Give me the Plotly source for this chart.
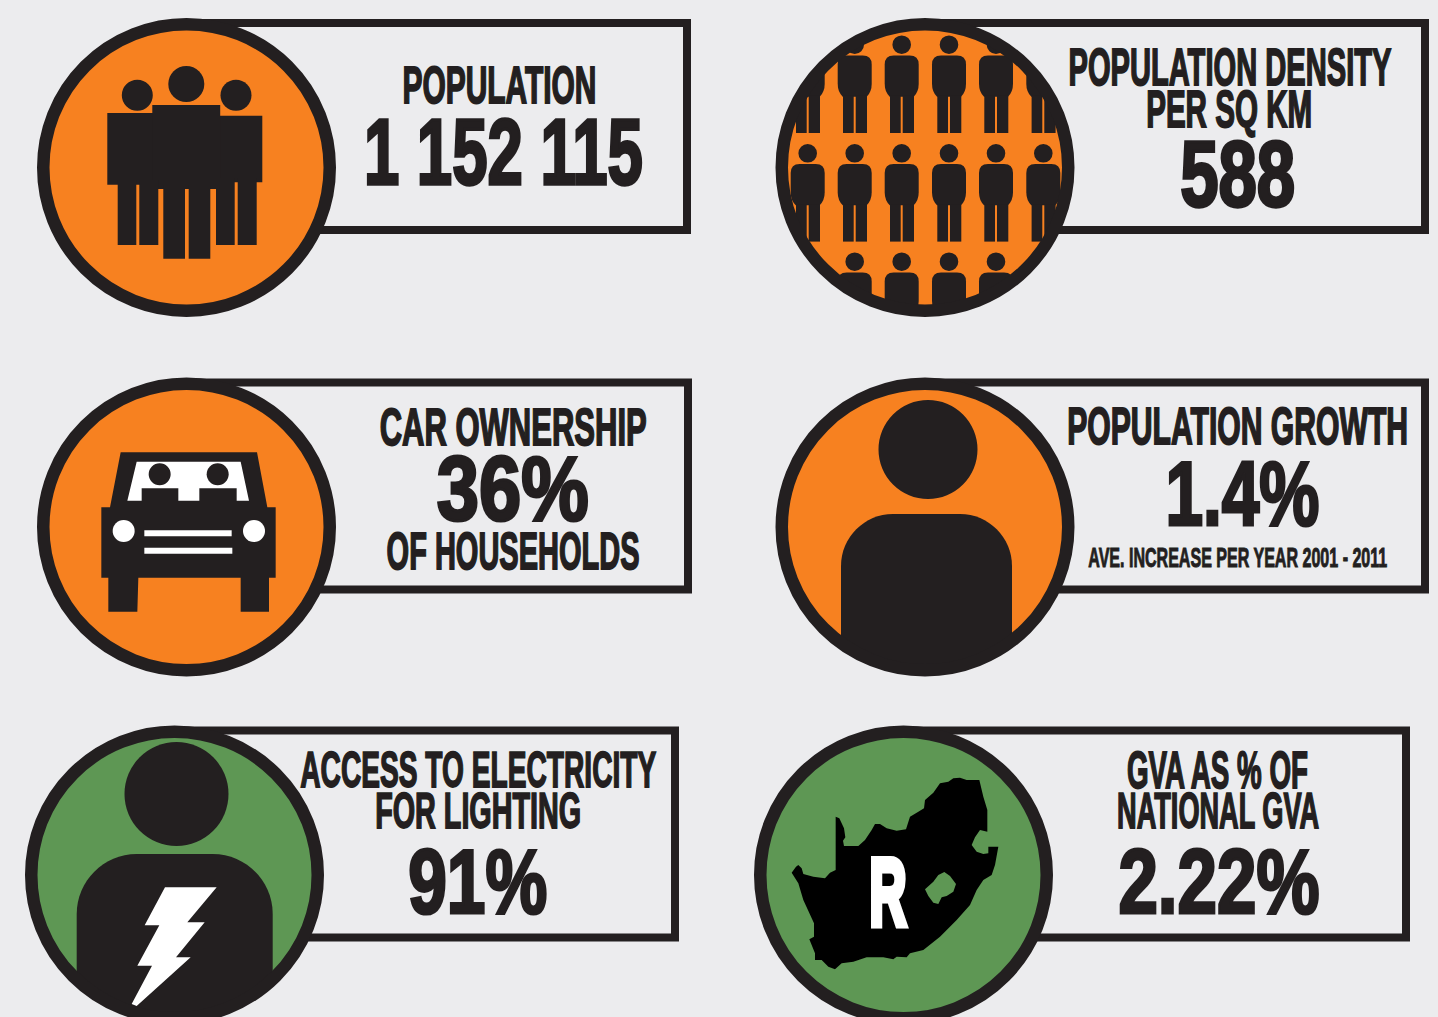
import math
import plotly.graph_objects as go

# ---- content ----
POPULATION = "1 152 115"
DENSITY = "588"
CAR_SHARE = "36%"
GROWTH = "1.4%"
ELECTRICITY = "91%"
GVA_SHARE = "2.22%"
TITLES = ["POPULATION", "POPULATION DENSITY", "PER SQ KM", "CAR OWNERSHIP", "OF HOUSEHOLDS",
          "POPULATION GROWTH", "AVE. INCREASE PER YEAR 2001 - 2011",
          "ACCESS TO ELECTRICITY", "FOR LIGHTING", "GVA AS % OF", "NATIONAL GVA"]

BG, DARK, ORANGE, GREEN = "#ECECEE", "#231F20", "#F78120", "#5E9754"
R_OUT, R_IN = 149.5, 137.0
shapes = []

def poly(points, fill, close=True):
    d = "M" + " L".join(f"{x:.2f},{y:.2f}" for x, y in points) + (" Z" if close else "")
    shapes.append(dict(type="path", path=d, fillcolor=fill, line=dict(width=0), xref="x", yref="y", layer="above"))

def rect(x0, y0, x1, y1, fill):
    shapes.append(dict(type="rect", x0=x0, y0=y0, x1=x1, y1=y1, fillcolor=fill, line=dict(width=0), layer="above"))

def disc(cx, cy, r, fill, lw=0, lc=DARK):
    shapes.append(dict(type="circle", x0=cx-r, y0=cy-r, x1=cx+r, y1=cy+r, fillcolor=fill,
                       line=dict(width=lw, color=lc), layer="above"))

def path(d, fill):
    shapes.append(dict(type="path", path=d, fillcolor=fill, line=dict(width=0), layer="above"))

def mask(cx, cy):
    s = R_OUT + 4
    n = 180
    pts = [(cx + R_IN*1.01*math.cos(2*math.pi*i/n), cy + R_IN*1.01*math.sin(2*math.pi*i/n)) for i in range(n)]
    d = f"M{cx-s},{cy-s} L{cx+s},{cy-s} L{cx+s},{cy+s} L{cx-s},{cy+s} Z M" + " L".join(f"{x:.2f},{y:.2f}" for x, y in pts) + " Z"
    path(d, BG)

def frame(cx, cy, top, bottom, right):
    x_bottom = cx + math.sqrt(143.0**2 - (bottom - cy)**2)
    d = f"M{cx},{top} L{right},{top} L{right},{bottom} L{x_bottom:.1f},{bottom}"
    shapes.append(dict(type="path", path=d, line=dict(width=8, color=DARK), layer="above"))

def ring(cx, cy):
    shapes.append(dict(type="circle", x0=cx-(R_OUT+R_IN)/2, y0=cy-(R_OUT+R_IN)/2, x1=cx+(R_OUT+R_IN)/2, y1=cy+(R_OUT+R_IN)/2,
                       line=dict(width=R_OUT-R_IN, color=DARK), layer="above"))

def panel(cx, cy, fill, right, draw):
    disc(cx, cy, R_IN + 1, fill)
    draw(cx, cy)
    mask(cx, cy)
    frame(cx, cy, cy - 144.5, cy + 62.5, right)
    ring(cx, cy)

def rounded_body(x0, y0, x1, y1, r):
    return (f"M{x0},{y1} L{x0},{y0+r} C{x0},{y0+r*0.45} {x0+r*0.45},{y0} {x0+r},{y0} "
            f"L{x1-r},{y0} C{x1-r*0.45},{y0} {x1},{y0+r*0.45} {x1},{y0+r} L{x1},{y1} Z")

def group_icon(cx, cy):
    for x, y, r in [(137.3, 95.3, 15.5), (186.3, 84, 18), (236, 95.3, 15.5)]:
        disc(x, y, r, DARK)
    for b in [(107.3, 113, 160, 184.7), (215, 115.7, 262.3, 182.3), (152.3, 105, 220.2, 189),
              (117.7, 180, 136.3, 245), (139.3, 180, 158.3, 245), (163.3, 185, 185, 258.7),
              (188.7, 185, 210.3, 258.7), (216, 178, 234.7, 245), (237.7, 178, 256.7, 245)]:
        rect(*b, DARK)

def crowd_icon(cx, cy):
    for hy in (44.7, 153.3, 261.7):
        for hx in (807.7, 854.7, 901.7, 949, 996, 1043.3):
            disc(hx, hy, 9.3, DARK)
            t, b, l, r = hy + 10.7, hy + 52, hx - 17, hx + 17
            path(f"M{l},{t+9} Q{l},{t} {l+9},{t} L{r-9},{t} Q{r},{t} {r},{t+9} L{r},{b-13} "
                 f"Q{r},{b-5} {r-5},{b} L{l+5},{b} Q{l},{b-5} {l},{b-13} Z", DARK)
            foot = min(hy + 88.3, cy + 140)
            rect(hx-11.7, b-1, hx-1, foot, DARK)
            rect(hx+1, b-1, hx+12.3, foot, DARK)

def zc(ox, oy, pts):
    return [(ox + x/3, oy + y/3) for x, y in pts]

def car_icon(cx, cy):
    ox, oy = 80, 430
    poly(zc(ox, oy, [(122,67),(531,67),(562,232),(587,232),(587,443),(567,443),(567,545),(482,545),(482,443),
                     (175,443),(172,545),(85,545),(85,443),(64,443),(64,232),(90,232)]), DARK)
    poly(zc(ox, oy, [(170,95),(482,95),(507,212),(470,212),(470,175),(358,175),(358,212),(295,212),(295,175),
                     (185,175),(185,212),(142,212)]), "white")
    disc(ox+239/3, oy+133/3, 11, DARK)
    disc(ox+413/3, oy+133/3, 11, DARK)
    disc(ox+131/3, oy+303/3, 11, "white")
    disc(ox+522/3, oy+303/3, 11, "white")
    rect(ox+193/3, oy+301/3, ox+455/3, oy+319/3, "white")
    rect(ox+193/3, oy+353/3, ox+457/3, oy+371/3, "white")

def person_icon(cx, cy):
    disc(928, 449.5, 49.5, DARK)
    path(rounded_body(841, 514, 1012, cy + 146, 52), DARK)

def power_icon(cx, cy):
    disc(176.5, 794, 52, DARK)
    path(rounded_body(76.7, 854, 272.7, cy + 146, 60), DARK)
    poly(zc(60, 840, [(315,142),(470,142),(382,247),(434,247),(348,352),(392,352),(230,498),(215,492),
                      (276,377),(232,377),(298,256),(254,256)]), "white")

def map_icon(cx, cy):
    poly(zc(770, 750, [(65,368),(78,350),(85,345),(95,355),(100,372),(130,380),(165,385),(180,368),(197,360),(197,200),
                       (208,205),(222,235),(226,262),(219,272),(222,288),(265,288),(285,270),(305,240),(315,222),(330,222),
                       (350,235),(380,242),(408,238),(420,200),(445,185),(462,175),(465,150),(490,128),(510,100),(535,95),
                       (550,85),(570,83),(590,90),(628,90),(640,140),(652,180),(652,245),(630,240),(615,262),(605,285),
                       (620,305),(640,312),(655,310),(655,290),(685,290),(675,345),(665,375),(640,390),(620,420),(600,465),
                       (560,510),(510,560),(460,600),(420,610),(410,622),(380,620),(370,628),(340,622),(290,622),(250,635),
                       (215,640),(195,658),(175,650),(155,630),(135,630),(135,610),(118,568),(132,560),(132,520),(100,450),(85,400)]), "#000000")
    poly(zc(770, 750, [(523,366),(540,378),(558,402),(550,425),(530,438),(515,442),(505,462),(490,458),(475,438),(465,418),(490,395),(505,375)]), GREEN)

panel(186.5, 167.5, ORANGE, 687, group_icon)
panel(925, 167.5, ORANGE, 1425, crowd_icon)
panel(186.5, 527, ORANGE, 688, car_icon)
panel(925, 527, ORANGE, 1425, person_icon)
panel(174.5, 875, GREEN, 675, power_icon)
panel(903.5, 875, GREEN, 1406, map_icon)

# text, x-left, x-right, cap top, baseline
PLACED = [
    (TITLES[0], 402, 596, 66, 103), (POPULATION, 364, 643, 118, 185),
    (TITLES[1], 1068, 1391, 48, 85), (TITLES[2], 1146, 1312, 90, 127), (DENSITY, 1180, 1295, 140, 207),
    (TITLES[3], 379, 646, 408, 445), (CAR_SHARE, 436, 588, 455, 521), (TITLES[4], 386, 639, 532, 569),
    (TITLES[5], 1067, 1408, 407, 444), (GROWTH, 1165, 1319, 460, 526), (TITLES[6], 1088, 1387, 547, 567),
    (TITLES[7], 300, 656, 752, 788), (TITLES[8], 375, 581, 793, 829), (ELECTRICITY, 408, 547, 848, 914),
    (TITLES[9], 1127, 1308, 751, 788), (TITLES[10], 1117, 1319, 793, 829), (GVA_SHARE, 1118, 1319, 848, 914),
]
annotations, lengths, strokes = [], [], []
for t, x0, x1, top, base in PLACED:
    size = (base - top) / 0.72
    annotations.append(dict(x=(x0+x1)/2, y=(top+base)/2, text=t, showarrow=False, xanchor="center", yanchor="middle",
                            font=dict(family="Liberation Sans Narrow, Liberation Sans", size=size, color=DARK, weight=700)))
    lengths.append(x1 - x0)
    strokes.append(round(size * 0.035, 2))
annotations.append(dict(x=888, y=892, text="R", showarrow=False, xanchor="center", yanchor="middle",
                        font=dict(family="Liberation Sans Narrow, Liberation Sans", size=94, color="white", weight=700)))
lengths.append(37)
strokes.append(7)

fig = go.Figure()
fig.update_layout(width=1438, height=1017, margin=dict(l=0, r=0, t=0, b=0), paper_bgcolor=BG, plot_bgcolor=BG,
                  xaxis=dict(range=[0, 1438], visible=False, fixedrange=True),
                  yaxis=dict(range=[1017, 0], visible=False, fixedrange=True),
                  shapes=shapes, annotations=annotations, showlegend=False)

post = """
document.body.style.margin='0';
var L=%s, S=%s;
document.querySelectorAll('.annotation-text').forEach(function(t,i){
  t.setAttribute('textLength',L[i]);t.setAttribute('lengthAdjust','spacingAndGlyphs');
  t.style.stroke=t.style.fill;t.style.strokeWidth=S[i]+'px';
});
""" % (lengths, strokes)
fig.write_html("out.html", post_script=post, config={"displayModeBar": False})
